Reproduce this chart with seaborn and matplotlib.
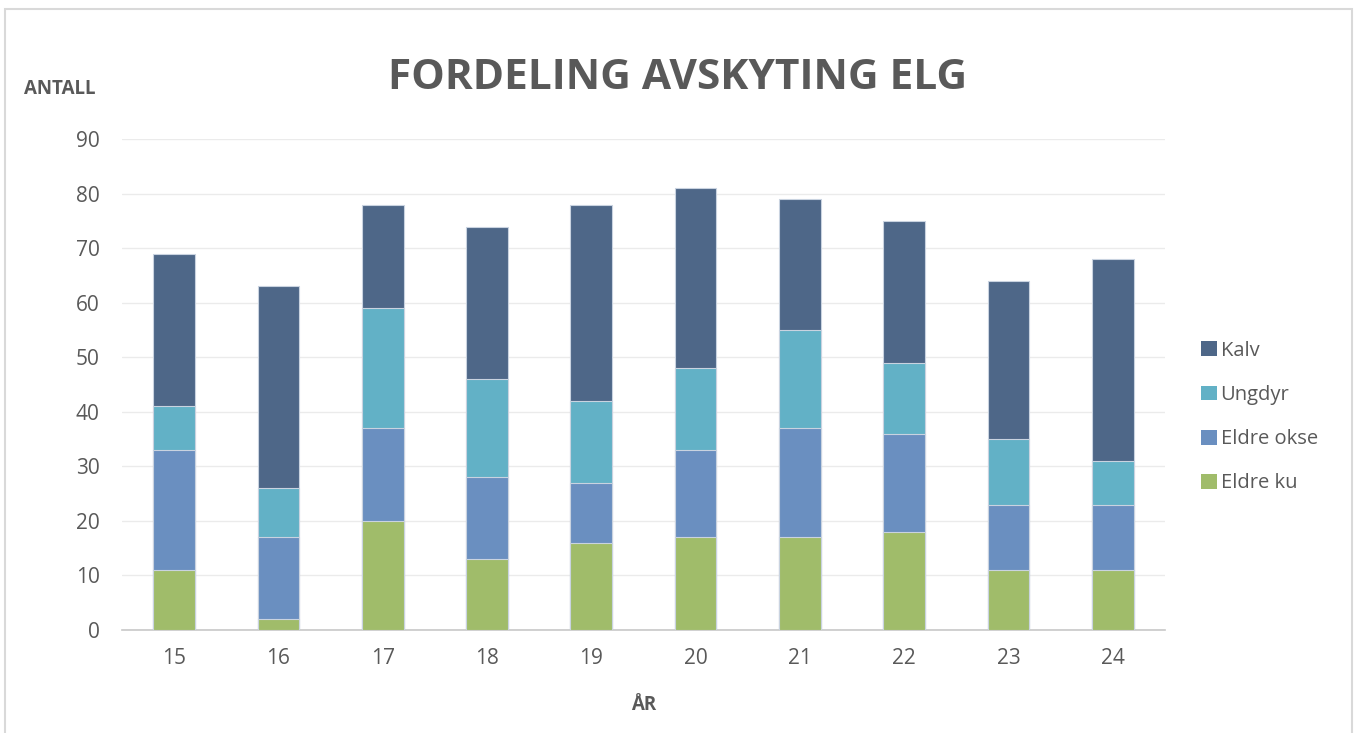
import numpy as np
import pandas as pd
import seaborn as sns
import matplotlib.pyplot as plt
from matplotlib.patches import Rectangle, Patch

# Data
years = ["15", "16", "17", "18", "19", "20", "21", "22", "23", "24"]
eldre_ku = [11, 2, 20, 13, 16, 17, 17, 18, 11, 11]
eldre_okse = [22, 15, 17, 15, 11, 16, 20, 18, 12, 12]
ungdyr = [8, 9, 22, 18, 15, 15, 18, 13, 12, 8]
kalv = [28, 37, 19, 28, 36, 33, 24, 26, 29, 37]

series = ["Eldre ku", "Eldre okse", "Ungdyr", "Kalv"]
colors = {"Eldre ku": "#a0bc6a", "Eldre okse": "#6a8fc0",
          "Ungdyr": "#62b1c6", "Kalv": "#4e6788"}

df = pd.DataFrame({"År": years, "Eldre ku": eldre_ku, "Eldre okse": eldre_okse,
                   "Ungdyr": ungdyr, "Kalv": kalv})
# cumulative tops so each layer can be drawn over the next
cum = df[series].cumsum(axis=1)
cum["År"] = df["År"]

sns.set_style("white")
plt.rcParams["font.family"] = ["Open Sans", "DejaVu Sans"]
text_col = "#595959"

fig = plt.figure(figsize=(13.57, 7.33), dpi=100)
ax = fig.add_axes([0.0899, 0.1405, 0.7686, 0.6695])

for s in reversed(series):
    sns.barplot(data=cum, x="År", y=s, color=colors[s], width=0.40,
                saturation=1, edgecolor="#c9d3e0", linewidth=0.8, ax=ax, zorder=3)

ax.set_ylim(0, 90)
ax.set_yticks(range(0, 91, 10))
ax.set_xlim(-0.5, len(years) - 0.5)
ax.yaxis.grid(True, color="#ebebeb", linewidth=1, zorder=0)
ax.set_axisbelow(True)
for sp in ["top", "right", "left"]:
    ax.spines[sp].set_visible(False)
ax.spines["bottom"].set_color("#c8c8c8")
ax.spines["bottom"].set_linewidth(1.2)
ax.tick_params(axis="both", length=0, labelsize=15, colors=text_col)
ax.tick_params(axis="y", pad=16)
ax.tick_params(axis="x", pad=13)
ax.set_xlabel("")
ax.set_ylabel("")

fig.text(0.0442, 0.879, "ANTALL", fontsize=13.5, fontweight="bold",
         color=text_col, ha="center", va="center")
fig.text(0.474, 0.038, "ÅR", fontsize=13.5, fontweight="bold",
         color=text_col, ha="center", va="center")
fig.text(0.4996, 0.893, "FORDELING AVSKYTING ELG", fontsize=30.5,
         fontweight="bold", color=text_col, ha="center", va="center")

handles = [Patch(facecolor=colors[s], edgecolor="none") for s in reversed(series)]
ax.legend(handles, list(reversed(series)), loc="center left",
          bbox_to_anchor=(0.872, 0.431), bbox_transform=fig.transFigure,
          frameon=False, fontsize=14.5, labelcolor=text_col,
          handlelength=0.75, handleheight=0.75, handletextpad=0.2,
          labelspacing=1.2)

# chart frame
fig.patches.append(Rectangle((0.004, -0.05), 0.992, 1.038, transform=fig.transFigure,
                             fill=False, edgecolor="#d9d9d9", linewidth=1.5))

plt.savefig("out.png", dpi=100)
